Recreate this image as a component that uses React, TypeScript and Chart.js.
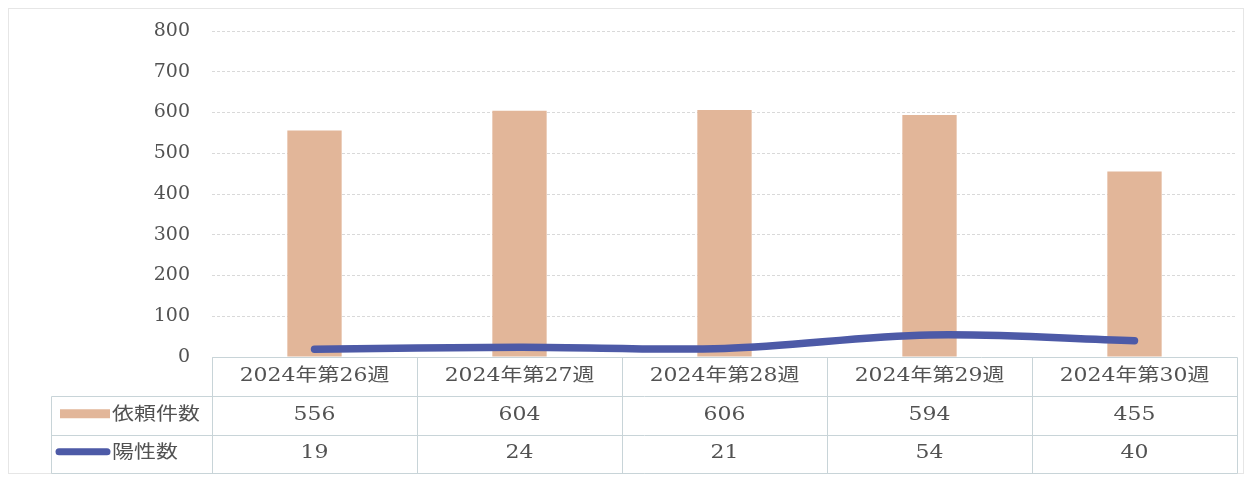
import React, { useEffect, useRef } from "react";
import { Chart, registerables } from "chart.js";

Chart.register(...registerables);

const categories = ["2024年第26週", "2024年第27週", "2024年第28週", "2024年第29週", "2024年第30週"];
const requestCounts = [556, 604, 606, 594, 455];
const positiveCounts = [19, 24, 21, 54, 40];
const seriesNames = ["依頼件数", "陽性数"];
const yMin = 0;
const yMax = 800;
const yStep = 100;

const BAR_COLOR = "#e2b699";
const LINE_COLOR = "#4d5aa7";
const TEXT_COLOR = "#525252";
const TABLE_LINE = "#c8d4d8";
const FONT_FAMILY = '"DejaVu Serif", "Noto Sans CJK JP", serif';

const tablePlugin = {
  id: "dataTable",
  afterDraw(chart: any) {
    const { ctx, chartArea, scales } = chart;
    const x = scales.x;
    const n = categories.length;
    const colW = chartArea.width / n;
    const top = Math.round(chartArea.bottom) + 0.5;
    const rowH = 38.5;
    const legendLeft = 43.5;
    const left = Math.round(chartArea.left) + 0.5;
    const right = Math.round(chartArea.right) + 0.5;

    ctx.save();
    // outer frame
    ctx.strokeStyle = "#e6e6e6";
    ctx.lineWidth = 1;
    ctx.strokeRect(0.5, 0.5, chart.width - 1, chart.height - 1);

    // table grid
    ctx.strokeStyle = TABLE_LINE;
    ctx.beginPath();
    ctx.moveTo(left, top);
    ctx.lineTo(right, top);
    for (let r = 1; r <= 3; r++) {
      const y = Math.round(top + r * rowH) + 0.5;
      ctx.moveTo(legendLeft, y);
      ctx.lineTo(right, y);
    }
    const bottom = Math.round(top + 3 * rowH) + 0.5;
    for (let i = 0; i <= n; i++) {
      const cx = Math.round(chartArea.left + i * colW) + 0.5;
      ctx.moveTo(cx, top);
      ctx.lineTo(cx, bottom);
    }
    ctx.moveTo(legendLeft, Math.round(top + rowH) + 0.5);
    ctx.lineTo(legendLeft, bottom);
    ctx.stroke();

    const drawText = (s: string, px: number, py: number, align: CanvasTextAlign) => {
      ctx.save();
      ctx.translate(px, py);
      ctx.scale(1.22, 1);
      ctx.textAlign = align;
      ctx.textBaseline = "middle";
      ctx.fillStyle = TEXT_COLOR;
      ctx.font = `18px ${FONT_FAMILY}`;
      ctx.fillText(s, 0, 0);
      ctx.restore();
    };

    const rows = [requestCounts, positiveCounts];
    for (let i = 0; i < n; i++) {
      const cx = x.getPixelForValue(i);
      drawText(categories[i], cx, top + rowH / 2, "center");
      rows.forEach((vals, r) => {
        drawText(String(vals[i]), cx, top + rowH * (r + 1) + rowH / 2, "center");
      });
    }

    // legend keys
    const r1 = top + rowH * 1.5;
    const r2 = top + rowH * 2.5;
    ctx.fillStyle = BAR_COLOR;
    ctx.fillRect(52, r1 - 6, 50, 9);
    ctx.strokeStyle = LINE_COLOR;
    ctx.lineWidth = 7;
    ctx.lineCap = "round";
    ctx.beginPath();
    ctx.moveTo(51, r2 - 2);
    ctx.lineTo(99, r2 - 2);
    ctx.stroke();
    drawText(seriesNames[0], 104, r1, "left");
    drawText(seriesNames[1], 104, r2, "left");
    ctx.restore();
  },
};

export default function App() {
  const ref = useRef<HTMLCanvasElement | null>(null);

  useEffect(() => {
    if (!ref.current) return;
    const chart = new Chart(ref.current, {
      type: "bar",
      data: {
        labels: categories,
        datasets: [
          {
            type: "line",
            label: seriesNames[1],
            data: positiveCounts,
            borderColor: LINE_COLOR,
            backgroundColor: LINE_COLOR,
            borderWidth: 7.5,
            borderCapStyle: "round",
            borderJoinStyle: "round",
            pointRadius: 0,
            tension: 0.35,
            order: 0,
          } as any,
          {
            type: "bar",
            label: seriesNames[0],
            data: requestCounts,
            backgroundColor: BAR_COLOR,
            categoryPercentage: 1,
            barPercentage: 0.265,
            order: 1,
          },
        ],
      },
      options: {
        animation: false,
        responsive: true,
        maintainAspectRatio: false,
        layout: { padding: { left: 0, right: 7, top: 23, bottom: 117 } },
        plugins: { legend: { display: false }, tooltip: { enabled: false } },
        scales: {
          x: { display: false },
          y: {
            min: yMin,
            max: yMax,
            afterFit: (s: any) => {
              s.width = 204;
            },
            ticks: {
              stepSize: yStep,
              color: TEXT_COLOR,
              padding: 0,
              font: { family: FONT_FAMILY, size: 19 },
            },
            grid: {
              color: "#d9d9d9",
              drawTicks: true,
              tickLength: 22,
              tickColor: "rgba(0,0,0,0)",
            },
            border: { display: false, dash: [3, 2] },
          },
        },
      },
      plugins: [tablePlugin],
    });
    return () => chart.destroy();
  }, []);

  return (
    <div style={{ width: 1236, height: 466, position: "relative" }}>
      <canvas ref={ref} />
    </div>
  );
}
